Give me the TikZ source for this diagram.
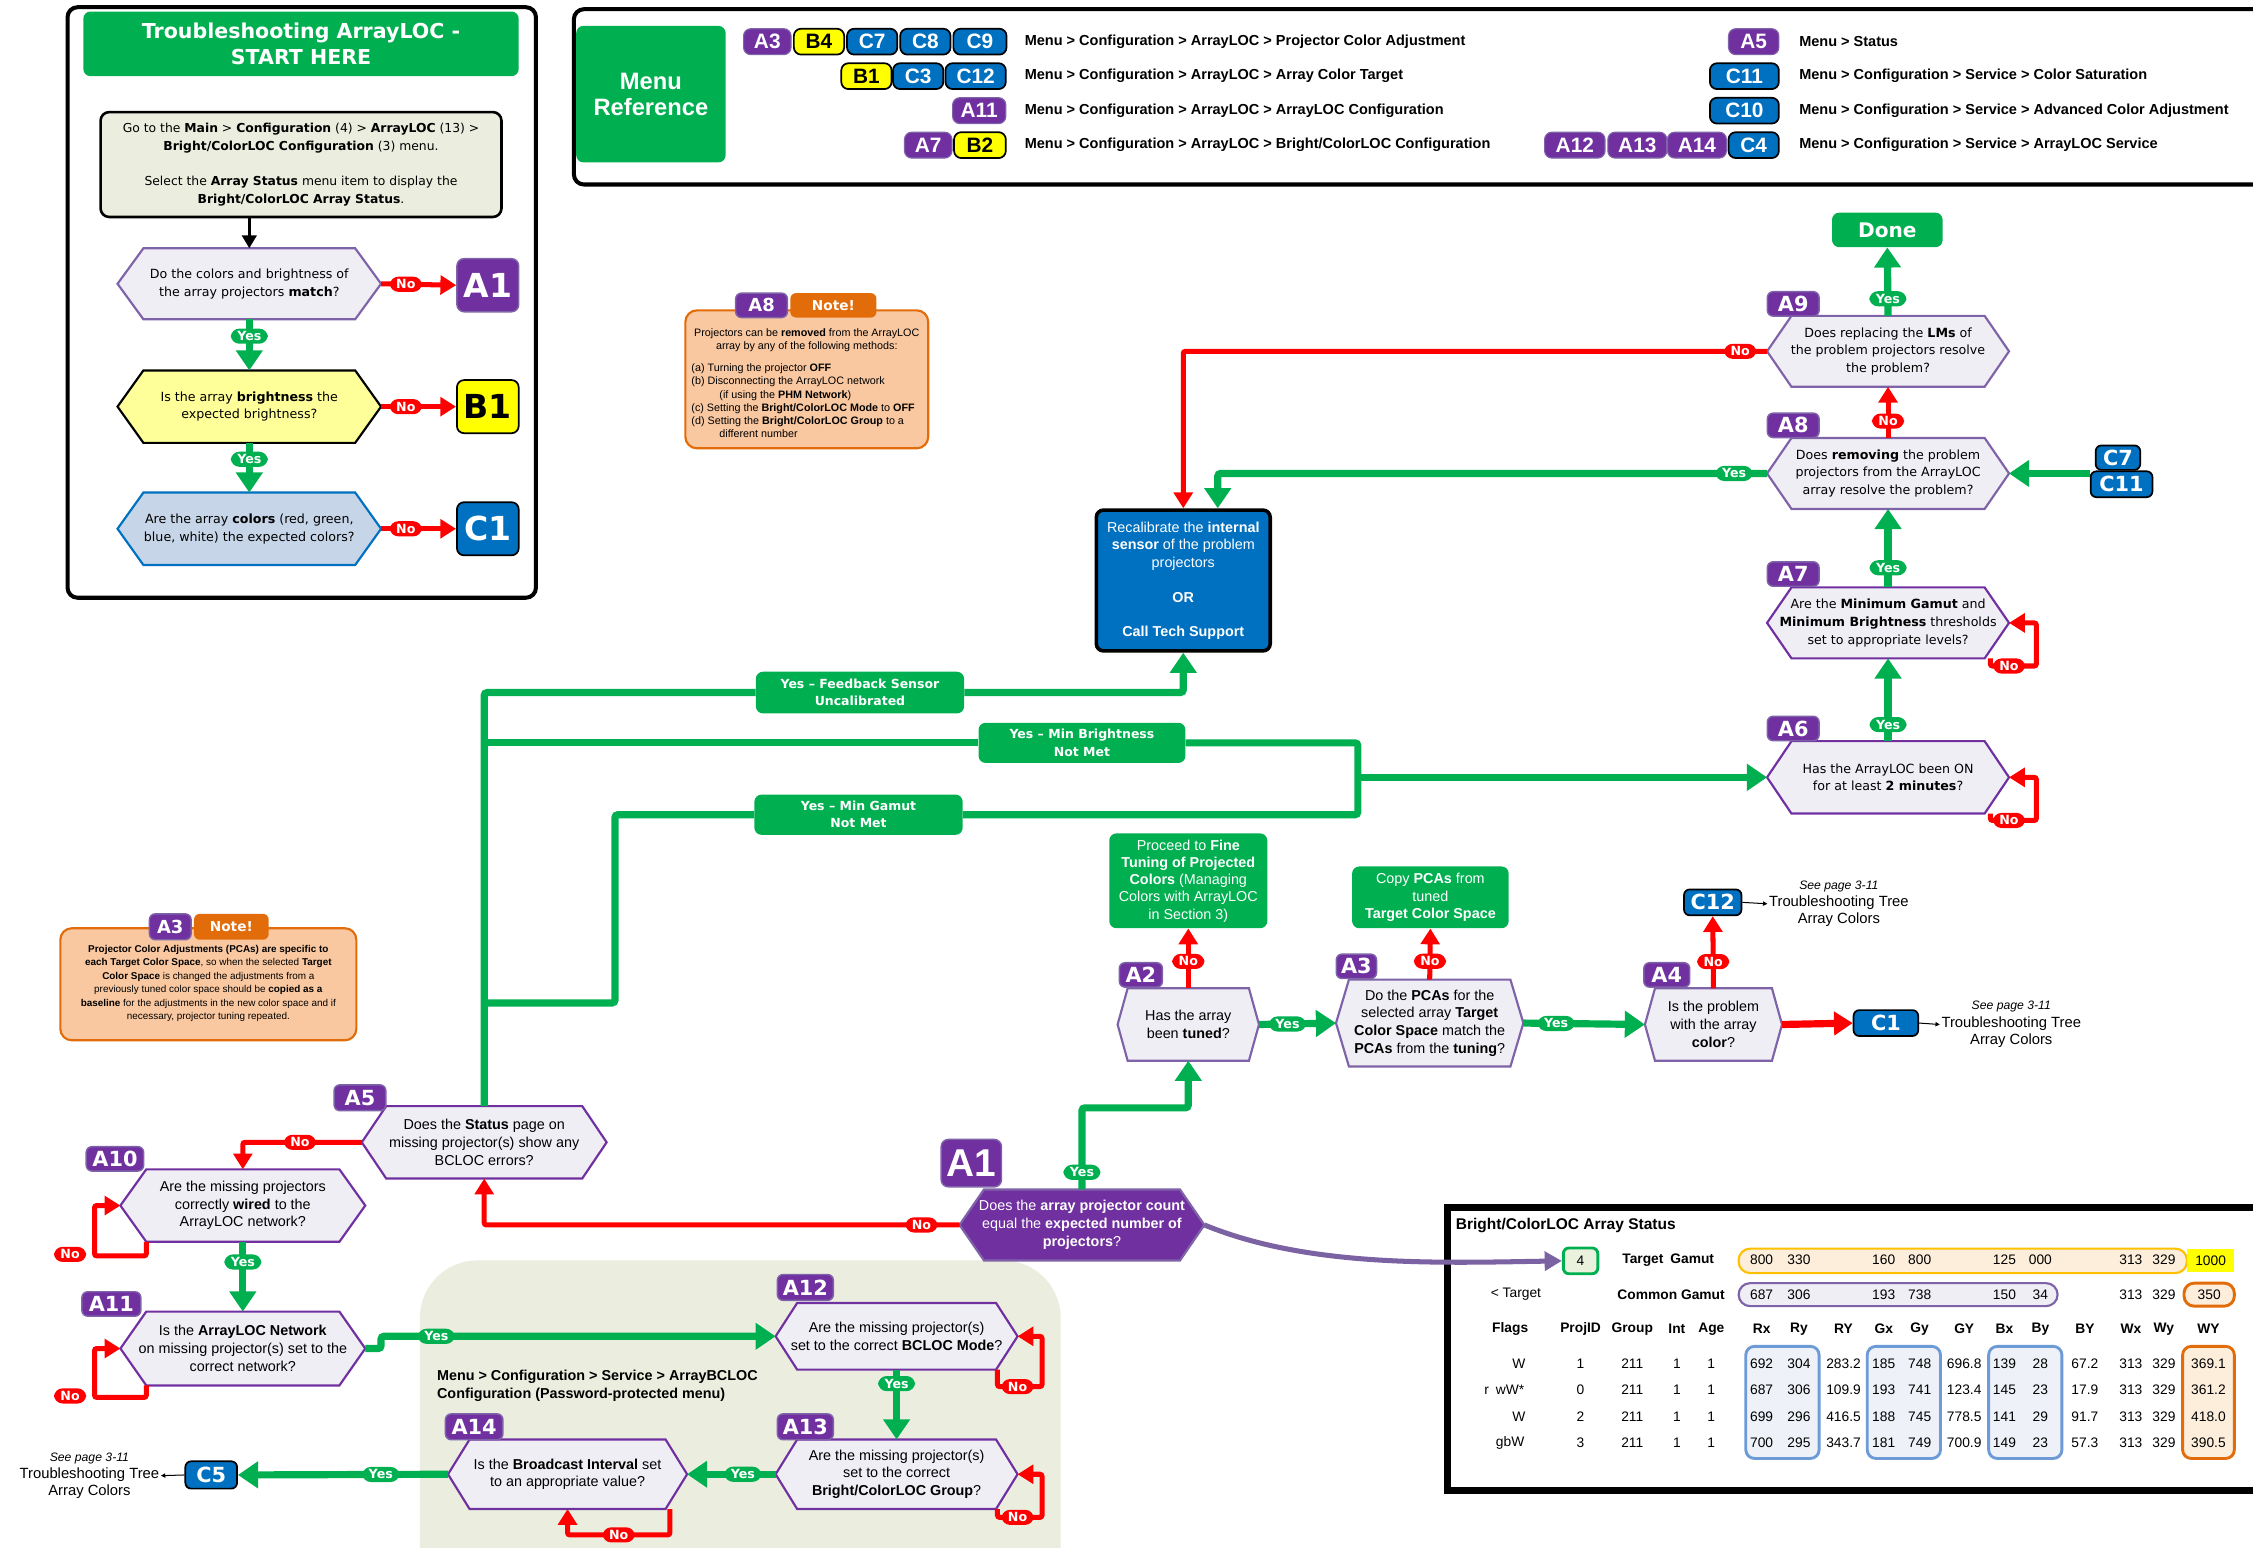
\documentclass[tikz,border=0pt]{standalone}
\usepackage{fontspec}
\setmainfont{Liberation Sans}
\newfontfamily\dv{DejaVu Sans}
\usetikzlibrary{arrows.meta,calc}
\definecolor{gr}{HTML}{00B050}
\definecolor{rd}{HTML}{FF0000}
\definecolor{pu}{HTML}{7030A0}
\definecolor{pub}{HTML}{7F63A8}
\definecolor{bl}{HTML}{0070C0}
\definecolor{lav}{HTML}{F0EEF5}
\definecolor{olv}{HTML}{EBEEDF}
\definecolor{yel}{HTML}{FFFF99}
\definecolor{yeltwo}{HTML}{FFFF00}
\definecolor{lblue}{HTML}{C6D5E8}
\definecolor{peach}{HTML}{FAC8A0}
\definecolor{org}{HTML}{E36C0A}
\definecolor{curvep}{HTML}{7B62A3}
\definecolor{ltor}{HTML}{FDEEDC}
\definecolor{gold}{HTML}{FFC000}
\definecolor{colb}{HTML}{6C9BD8}
\definecolor{colbf}{HTML}{EEF1F7}
\definecolor{ltgr}{HTML}{EAF1DD}
\pgfdeclarelayer{back}
\pgfdeclarelayer{hexl}
\pgfsetlayers{back,hexl,main}
\newcommand\hexo[3]{\begin{pgfonlayer}{hexl}\path[#3] (#1.west) -- ($(#1.north west)+(#2,0)$) -- ($(#1.north east)+(-#2,0)$) -- (#1.east) -- ($(#1.south east)+(-#2,0)$) -- ($(#1.south west)+(#2,0)$) -- cycle;\end{pgfonlayer}}
\tikzset{
  hx/.style={rectangle, inner sep=0pt, align=center, font=\fontsize{10}{12.3}\selectfont},
  hxd/.style={hx, font=\dv\fontsize{8.8}{12.3}\selectfont},
  pill/.style={rounded corners=6pt, inner xsep=4.5pt, inner ysep=2pt, text=white, font=\dv\bfseries\fontsize{8.8}{9}\selectfont},
  yesp/.style={pill, fill=gr},
  nop/.style={pill, fill=rd},
  gline/.style={draw=gr, line width=5pt, rounded corners=2pt},
  garr/.style={gline, -{Triangle[length=14pt,width=18pt]}},
  rline/.style={draw=rd, line width=3.5pt, rounded corners=1.5pt},
  rarr/.style={rline, -{Triangle[length=11pt,width=13pt]}},
  bdg/.style={rounded corners=4pt, inner sep=0pt, text=white, font=\dv\bfseries\fontsize{14.5}{14.5}\selectfont, minimum height=17pt},
  pb/.style={bdg, fill=pu, draw=pub, line width=1pt},
  bb/.style={bdg, fill=bl, draw=black, line width=1.2pt},
  yb/.style={bdg, fill=yeltwo, draw=black, line width=1.2pt, text=black},
  mbd/.style={rounded corners=5pt, inner sep=0pt, minimum height=18pt, font=\bfseries\fontsize{14.5}{14.5}\selectfont, text=white},
  mp/.style={mbd, fill=pu, draw=pub, line width=0.8pt},
  mbl/.style={mbd, fill=bl, draw=black, line width=1.2pt},
  my/.style={mbd, fill=yeltwo, draw=black, line width=1.2pt, text=black},
  mtxt/.style={anchor=west, inner sep=0pt, font=\bfseries\fontsize{10.1}{11}\selectfont},
  gbox/.style={fill=gr, rounded corners=5pt, text=white, align=center, inner sep=0pt},
  notebox/.style={fill=peach, draw=org, line width=1.5pt, rounded corners=8pt},
  notebd/.style={rounded corners=4pt, inner sep=0pt, text=white, font=\dv\bfseries\fontsize{9.5}{9.5}\selectfont, minimum height=17pt},
  seet/.style={align=center, inner sep=1pt, font=\fontsize{10.3}{12}\selectfont},
  smallarr/.style={draw=black, line width=0.7pt, -{Triangle[length=3pt,width=3pt]}},
  tb/.style={font=\fontsize{9.6}{10}\selectfont, inner sep=0pt},
  tbb/.style={font=\bfseries\fontsize{9.6}{10}\selectfont, inner sep=0pt},
  glab/.style={gbox, font=\dv\bfseries\fontsize{8.7}{12}\selectfont},
}
\begin{document}
\begin{tikzpicture}[x=1pt,y=-1pt]
\useasboundingbox (0,0) rectangle (1568,1077);
\begin{pgfonlayer}{back}
\fill[white] (0,0) rectangle (1568,1077);
\node[fill=olv, rounded corners=40pt, minimum width=446pt, minimum height=260pt, inner sep=0pt, anchor=north west] (region) at (292,877) {};
\end{pgfonlayer}

% ================= top-left box =================
\node[draw, line width=2.8pt, rounded corners=7pt, minimum width=326pt, minimum height=411pt, inner sep=0pt] (tlf) at (210,210.5) {};
\node[gbox, minimum width=303pt, minimum height=45pt, font=\dv\bfseries\fontsize{14.3}{17.5}\selectfont] (title) at (209.5,30.5) {Troubleshooting ArrayLOC -\\START HERE};
\node[draw, line width=1.8pt, fill=olv, rounded corners=6pt, minimum width=279pt, minimum height=73pt, align=center, inner sep=0pt, font=\dv\fontsize{8.6}{12.3}\selectfont] (instr) at (209.5,114.5) {Go to the \textbf{Main} > \textbf{Configuration} (4) > \textbf{ArrayLOC} (13) >\\\textbf{Bright/ColorLOC Configuration} (3) menu.\\[12.5pt]Select the \textbf{Array Status} menu item to display the\\\textbf{Bright/ColorLOC Array Status}.};

\node[hxd, minimum width=183pt, minimum height=49pt] (q1) at (173.5,197.5) {Do the colors and brightness of\\the array projectors \textbf{match}?};
\hexo{q1}{18}{fill=lav,draw=pub,line width=1.5pt}
\node[hxd, minimum width=183pt, minimum height=50pt] (q2) at (173.5,283) {Is the array \textbf{brightness} the\\expected brightness?};
\hexo{q2}{18}{fill=yel,draw=black,line width=1.5pt}
\node[hxd, minimum width=183pt, minimum height=50pt] (q3) at (173.5,368) {Are the array \textbf{colors} (red, green,\\blue, white) the expected colors?};
\hexo{q3}{18}{fill=lblue,draw=bl,line width=1.5pt}

\node[pb, minimum width=43pt, minimum height=37pt, rounded corners=5pt, font=\dv\bfseries\fontsize{23}{23}\selectfont] (tA1) at (339.5,198.5) {A1};
\node[yb, minimum width=43pt, minimum height=37pt, rounded corners=5pt, font=\dv\bfseries\fontsize{23}{23}\selectfont] (tB1) at (339.5,283) {B1};
\node[bb, minimum width=43pt, minimum height=37pt, rounded corners=5pt, font=\dv\bfseries\fontsize{23}{23}\selectfont] (tC1) at (339.5,368) {C1};

\draw[line width=2.5pt, -{Triangle[length=9pt,width=10pt]}] (q1.north |- instr.south) -- (q1.north);
\draw[rarr] (q1.east) -- node[nop,pos=0.33]{No} (tA1.west);
\draw[rarr] (q2.east) -- node[nop,pos=0.33]{No} (tB1.west);
\draw[rarr] (q3.east) -- node[nop,pos=0.33]{No} (tC1.west);
\draw[garr] (q1.south) -- node[yesp,pos=0.33]{Yes} (q2.north);
\draw[garr] (q2.south) -- node[yesp,pos=0.33]{Yes} (q3.north);

% ================= menu reference =================
\node[draw, line width=2.8pt, rounded corners=7pt, minimum width=1250pt, minimum height=122pt, inner sep=0pt, anchor=north west] (mframe) at (398,5) {};
\node[gbox, minimum width=104pt, minimum height=95pt, font=\bfseries\fontsize{16.5}{18}\selectfont] (mref) at (453,65.5) {Menu\\Reference};

\node[mp, minimum width=33pt] (mA3) at (534,29) {A3};
\node[my, minimum width=35pt] (mB4) at (570,29) {B4};
\node[mbl, minimum width=35pt] (mC7) at (607,29) {C7};
\node[mbl, minimum width=35pt] (mC8) at (644,29) {C8};
\node[mbl, minimum width=37pt] (mC9) at (682,29) {C9};
\node[my, minimum width=35pt] (mB1) at (603,53) {B1};
\node[mbl, minimum width=35pt] (mC3) at (639,53) {C3};
\node[mbl, minimum width=42pt] (mC12) at (679,53) {C12};
\node[mp, minimum width=37pt] (mA11) at (681.5,77) {A11};
\node[mp, minimum width=33pt] (mA7) at (646,101) {A7};
\node[my, minimum width=36pt] (mB2) at (682,101) {B2};
\node[mp, minimum width=35pt] (mA5) at (1220.5,29) {A5};
\node[mbl, minimum width=48pt] (mC11) at (1214,53) {C11};
\node[mbl, minimum width=48pt] (mC10) at (1214,77) {C10};
\node[mp, minimum width=42pt] (mA12) at (1096,101) {A12};
\node[mp, minimum width=41pt] (mA13) at (1139.5,101) {A13};
\node[mp, minimum width=41pt] (mA14) at (1181,101) {A14};
\node[mbl, minimum width=35pt] (mC4) at (1220.5,101) {C4};

\node[mtxt] (mt1) at (713,29) {Menu > Configuration > ArrayLOC > Projector Color Adjustment};
\node[mtxt] (mt2) at (713,53) {Menu > Configuration > ArrayLOC > Array Color Target};
\node[mtxt] (mt3) at (713,77) {Menu > Configuration > ArrayLOC > ArrayLOC Configuration};
\node[mtxt] (mt4) at (713,101) {Menu > Configuration > ArrayLOC > Bright/ColorLOC Configuration};
\node[mtxt] (mt5) at (1252,29) {Menu > Status};
\node[mtxt] (mt6) at (1252,53) {Menu > Configuration > Service > Color Saturation};
\node[mtxt] (mt7) at (1252,77) {Menu > Configuration > Service > Advanced Color Adjustment};
\node[mtxt] (mt8) at (1252,101) {Menu > Configuration > Service > ArrayLOC Service};

% ================= notes =================
\node[notebox, minimum width=169pt, minimum height=96pt] (n8) at (561.5,264) {};
\node[pb, minimum width=36pt, font=\dv\bfseries\fontsize{12.5}{12.5}\selectfont] (n8a) at (530,212.5) {A8};
\node[notebd, fill=org, minimum width=60pt] (n8b) at (580,212.5) {Note!};
\node[align=center, inner sep=0pt, font=\fontsize{7.5}{9.2}\selectfont] (n8t1) at (561.5,236.5) {Projectors can be \textbf{removed} from the ArrayLOC\\array by any of the following methods:};
\node[align=left, anchor=north west, inner sep=0pt, font=\fontsize{7.5}{9.2}\selectfont] (n8t2) at (481,253) {(a) Turning the projector \textbf{OFF}\\(b) Disconnecting the ArrayLOC network\\\hspace*{2.6em}(if using the \textbf{PHM Network})\\(c) Setting the \textbf{Bright/ColorLOC Mode} to \textbf{OFF}\\(d) Setting the \textbf{Bright/ColorLOC Group} to a\\\hspace*{2.6em}different number};

\node[notebox, minimum width=206pt, minimum height=78pt] (n3) at (145,685) {};
\node[pb, minimum width=29pt, minimum height=18pt, font=\dv\bfseries\fontsize{12.5}{12.5}\selectfont] (n3a) at (118.5,645) {A3};
\node[notebd, fill=org, minimum width=52pt, minimum height=18pt] (n3b) at (161,645) {Note!};
\node[align=center, inner sep=0pt, font=\fontsize{6.9}{9.4}\selectfont] (n3t) at (145,684.5) {\textbf{Projector Color Adjustments (PCAs) are specific to}\\\textbf{each Target Color Space}, so when the selected \textbf{Target}\\\textbf{Color Space} is changed the adjustments from a\\previously tuned color space should be \textbf{copied as a}\\\textbf{baseline} for the adjustments in the new color space and if\\necessary, projector tuning repeated.};

% ================= right column =================
\node[gbox, minimum width=77pt, minimum height=24pt, font=\dv\bfseries\fontsize{14}{14}\selectfont] (done) at (1313.5,160) {Done};
\node[hxd, minimum width=168pt, minimum height=49pt] (A9) at (1314,244.5) {Does replacing the \textbf{LMs} of\\the problem projectors resolve\\the problem?};
\hexo{A9}{17}{fill=lav,draw=pub,line width=1.5pt}
\node[hxd, minimum width=168pt, minimum height=49pt] (A8) at (1314,329.5) {Does \textbf{removing} the problem\\projectors from the ArrayLOC\\array resolve the problem?};
\hexo{A8}{17}{fill=lav,draw=pub,line width=1.5pt}
\node[hxd, minimum width=168pt, minimum height=49pt] (A7) at (1314,433.5) {Are the \textbf{Minimum Gamut} and\\\textbf{Minimum Brightness} thresholds\\set to appropriate levels?};
\hexo{A7}{17}{fill=lav,draw=pu,line width=1.5pt}
\node[hxd, minimum width=168pt, minimum height=50pt] (A6) at (1314,541) {Has the ArrayLOC been ON\\for at least \textbf{2 minutes}?};
\hexo{A6}{17}{fill=lav,draw=pu,line width=1.5pt}
\node[pb, minimum width=36pt] (bA9) at (1248,211.5) {A9};
\node[pb, minimum width=36pt] (bA8) at (1248,296) {A8};
\node[pb, minimum width=36pt] (bA7) at (1248,399.5) {A7};
\node[pb, minimum width=36pt] (bA6) at (1248,507) {A6};
\node[bb, minimum width=31pt] (bC7) at (1474,318.5) {C7};
\node[bb, minimum width=43pt, minimum height=18pt] (bC11) at (1476.5,337) {C11};

\node[draw=black, line width=2.5pt, fill=bl, rounded corners=5pt, minimum width=121pt, minimum height=98pt, inner sep=0pt, text=white, align=center, font=\fontsize{10}{12.4}\selectfont] (recal) at (823.5,404) {Recalibrate the \textbf{internal}\\\textbf{sensor} of the problem\\projectors\\[11.5pt]\textbf{OR}\\[11.5pt]\textbf{Call Tech Support}};

\node[glab, minimum width=145pt, minimum height=29pt] (fbk) at (598.5,482) {Yes – Feedback Sensor\\Uncalibrated};
\node[glab, minimum width=144pt, minimum height=28pt] (mbr) at (753,517) {Yes – Min Brightness\\Not Met};
\node[glab, minimum width=145pt, minimum height=28pt] (mga) at (597.5,567) {Yes – Min Gamut\\Not Met};

% ================= middle row =================
\node[hx, minimum width=98pt, minimum height=50pt] (A2) at (827,713) {Has the array\\been \textbf{tuned}?};
\hexo{A2}{7}{fill=lav,draw=pub,line width=1.5pt}
\node[hx, minimum width=130pt, minimum height=60pt] (A3) at (995,712) {Do the \textbf{PCAs} for the\\selected array \textbf{Target}\\\textbf{Color Space} match the\\\textbf{PCAs} from the \textbf{tuning}?};
\hexo{A3}{9}{fill=lav,draw=pub,line width=1.5pt}
\node[hx, minimum width=95pt, minimum height=50pt] (A4) at (1192.5,713) {Is the problem\\with the array\\\textbf{color}?};
\hexo{A4}{7}{fill=lav,draw=pub,line width=1.5pt}
\node[pb, minimum width=30pt] (bA2) at (794,678.5) {A2};
\node[pb, minimum width=28pt] (bA3) at (944,672.5) {A3};
\node[pb, minimum width=32pt] (bA4) at (1160,678.5) {A4};
\node[gbox, minimum width=110pt, minimum height=66pt, font=\fontsize{10}{12}\selectfont] (proc) at (827,613) {Proceed to \textbf{Fine}\\\textbf{Tuning of Projected}\\\textbf{Colors} (Managing\\Colors with ArrayLOC\\in Section 3)};
\node[gbox, minimum width=109pt, minimum height=43pt, font=\fontsize{10}{12.3}\selectfont] (copy) at (995.5,624.5) {Copy \textbf{PCAs} from\\tuned\\\textbf{Target Color Space}};
\node[bb, minimum width=40pt, minimum height=18pt] (bC12) at (1192,628) {C12};
\node[bb, minimum width=45pt, minimum height=18pt] (bC1) at (1312.5,712) {C1};
\node[seet, anchor=west] (s12) at (1230,629) {\textit{\fontsize{8.5}{10}\selectfont See page 3-11}\\Troubleshooting Tree\\Array Colors};
\node[seet, anchor=west] (s1) at (1350,713) {\textit{\fontsize{8.5}{10}\selectfont See page 3-11}\\Troubleshooting Tree\\Array Colors};

% ================= A1 and left flow =================
\node[hx, minimum width=170pt, minimum height=49pt, text=white] (A1) at (753,852.5) {Does the \textbf{array projector count}\\equal the \textbf{expected number of}\\\textbf{projectors}?};
\hexo{A1}{17}{fill=pu,draw=pub,line width=1.5pt}
\node[pb, minimum width=42pt, minimum height=33pt, rounded corners=5pt, font=\bfseries\fontsize{27}{27}\selectfont] (bA1) at (676,809.5) {A1};

\node[hx, minimum width=170pt, minimum height=50pt] (A5) at (337,795) {Does the \textbf{Status} page on\\missing projector(s) show any\\BCLOC errors?};
\hexo{A5}{17}{fill=lav,draw=pu,line width=1.5pt}
\node[hx, minimum width=170pt, minimum height=50pt] (A10) at (169,839) {Are the missing projectors\\correctly \textbf{wired} to the\\ArrayLOC network?};
\hexo{A10}{18}{fill=lav,draw=pu,line width=1.5pt}
\node[hx, minimum width=170pt, minimum height=51pt] (A11) at (169,938.5) {Is the \textbf{ArrayLOC Network}\\on missing projector(s) set to the\\correct network?};
\hexo{A11}{18}{fill=lav,draw=pu,line width=1.5pt}
\node[hx, minimum width=168pt, minimum height=46pt] (A12) at (624,930) {Are the missing projector(s)\\set to the correct \textbf{BCLOC Mode}?};
\hexo{A12}{15}{fill=lav,draw=pu,line width=1.5pt}
\node[hx, minimum width=168pt, minimum height=48pt] (A13) at (624,1026) {Are the missing projector(s)\\set to the correct\\\textbf{Bright/ColorLOC Group}?};
\hexo{A13}{15}{fill=lav,draw=pu,line width=1.5pt}
\node[hx, minimum width=166pt, minimum height=48pt] (A14) at (395,1026) {Is the \textbf{Broadcast Interval} set\\to an appropriate value?};
\hexo{A14}{15}{fill=lav,draw=pu,line width=1.5pt}
\node[pb, minimum width=36pt, minimum height=18pt] (bA5) at (250.5,764) {A5};
\node[pb, minimum width=40pt] (bA10) at (80,806.5) {A10};
\node[pb, minimum width=41pt] (bA11) at (77.5,907.5) {A11};
\node[pb, minimum width=39pt, minimum height=18pt] (bA12) at (560.5,896) {A12};
\node[pb, minimum width=39pt, minimum height=18pt] (bA13) at (560.5,993) {A13};
\node[pb, minimum width=40pt, minimum height=18pt] (bA14) at (330,993) {A14};
\node[bb, minimum width=36pt, minimum height=19pt] (bC5) at (147,1026.5) {C5};
\node[seet, anchor=east] (s5) at (112,1027) {\textit{\fontsize{8.5}{10}\selectfont See page 3-11}\\Troubleshooting Tree\\Array Colors};
\node[anchor=north west, align=left, inner sep=0pt, font=\bfseries\fontsize{10}{12.5}\selectfont] (regt) at (304,953) {Menu > Configuration > Service > ArrayBCLOC\\Configuration (Password-protected menu)};

% coordinates
\coordinate (t1) at (337,482);
\coordinate (t2) at (337,517);
\coordinate (t3) at (337,698);
\coordinate (t4) at (428,698);
\coordinate (t5) at (428,567);
\coordinate (j1) at (945,517);
\coordinate (j2) at (945,567);
\coordinate (j3) at (945,541);
\coordinate (k1) at (753,771);

% ================= connectors =================
\draw[garr] (A9.north) -- node[yesp,pos=0.25]{Yes} (done.south);
\draw[rarr] (A8.north) -- node[nop,pos=0.33]{No} (A9.south);
\draw[garr] (A7.north) -- node[yesp,pos=0.25]{Yes} (A8.south);
\draw[garr] (A6.north) -- node[yesp,pos=0.2]{Yes} (A7.south);
\draw[garr] (bC11.west |- A8.east) -- (A8.east);
\draw[rarr] ($(A7.south east)+(-13,0)$) |- ($(A7.east)+(19,30)$) |- (A7.east);
\node[nop] (p7) at ($(A7.east)+(0,30)$) {No};
\draw[rarr] ($(A6.south east)+(-13,0)$) |- ($(A6.east)+(19,30)$) |- (A6.east);
\node[nop] (p6) at ($(A6.east)+(0,30)$) {No};
\draw[rarr] (A9.west) -| node[nop,pos=0.023]{No} (recal.north);
\draw[garr] (A8.west) -| node[yesp,pos=0.03]{Yes} ($(recal.north)+(24,0)$);

\draw[gline] (A5.north) -- (t1) -- (fbk.west);
\draw[garr] (fbk.east) -| (recal.south);
\draw[gline] (t2) -- (mbr.west);
\draw[gline] (mbr.east) -- (j1) -- (j2) -- (mga.east);
\draw[gline] (t3) -- (t4) -- (t5) -- (mga.west);
\draw[garr] (j3) -- (A6.west);

\draw[garr] (A1.north) -- node[yesp,pos=0.21]{Yes} (k1) -| (A2.south);
\draw[rarr] (A2.north) -- node[nop,pos=0.45]{No} (proc.south);
\draw[garr] (A2.east) -- node[yesp,pos=0.37]{Yes} (A3.west);
\draw[rarr] (A3.north) -- node[nop,pos=0.36]{No} (copy.south);
\draw[garr] (A3.east) -- node[yesp,pos=0.27]{Yes} (A4.west);
\draw[rarr] (A4.north) -- node[nop,pos=0.37]{No} (bC12.south);
\draw[draw=rd, line width=5pt, -{Triangle[length=13pt,width=16pt]}] (A4.east) -- (bC1.west);
\draw[smallarr] (bC12.east) -- (s12.west);
\draw[smallarr] (bC1.east) -- (s1.west);
\draw[smallarr] (bC5.west) -- (s5.east);

\draw[rarr] (A1.west) -| node[nop,pos=0.04]{No} (A5.south);
\draw[rarr] (A5.west) -| node[nop,pos=0.26]{No} (A10.north);
\draw[garr] (A10.south) -- node[yesp,pos=0.29]{Yes} (A11.north);
\draw[rarr] ($(A10.south west)+(18,0)$) |- ($(A10.west)+(-18,35)$) |- (A10.west);
\node[nop] (p10) at ($(A10.west)+(-35,34)$) {No};
\draw[rarr] ($(A11.south west)+(18,0)$) |- ($(A11.west)+(-18,34)$) |- (A11.west);
\node[nop] (p11) at ($(A11.west)+(-35,33)$) {No};
\draw[garr] (A11.east) -- ++(11,0) |- node[yesp,pos=0.57]{Yes} (A12.west);
\draw[garr] (A12.south) -- node[yesp,pos=0.2]{Yes} (A13.north);
\draw[rarr] ($(A12.south east)+(-14,0)$) |- ($(A12.east)+(17,35)$) |- (A12.east);
\node[nop] (p12) at ($(A12.east)+(0,35)$) {No};
\draw[rarr] ($(A13.south east)+(-14,0)$) |- ($(A13.east)+(17,30)$) |- (A13.east);
\node[nop] (p13) at ($(A13.east)+(0,30)$) {No};
\draw[garr] (A13.west) -- node[yesp,pos=0.37]{Yes} (A14.east);
\draw[rarr] ($(A14.south east)+(-12,0)$) |- node[nop,pos=0.75]{No} ($(A14.south)+(0,18)$) -- (A14.south);
\draw[garr] (A14.west) -- node[yesp,pos=0.32]{Yes} (bC5.east);

% ================= table =================
\node[draw, line width=5pt, minimum width=620pt, minimum height=197pt, inner sep=0pt, anchor=north west] (tbl) at (1005,838) {};
\node[anchor=west, inner sep=0pt, font=\bfseries\fontsize{10.8}{12}\selectfont] (ttl) at (1013,853) {Bright/ColorLOC Array Status};
\node[draw=gr, line width=2pt, fill=ltgr, rounded corners=4pt, minimum width=24pt, minimum height=18pt, inner sep=0pt, tb] (four) at (1100,877.5) {4};
\draw[draw=curvep, line width=3.5pt, -{Triangle[length=12pt,width=13pt]}] (A1.east) .. controls (910,882) and (1000,879) .. (four.west);
\node[tbb] (tg) at (1161,877) {Target\enspace Gamut};
\node[tbb] (cg) at (1163,901) {Common Gamut};
\node[tb] (lt) at (1055,901) {< Target};
\node[draw=gold, line width=1.5pt, fill=ltor, rounded corners=8pt, minimum width=312pt, minimum height=17pt, inner sep=0pt] (strip1) at (1366,877.5) {};
\node[fill=yeltwo, minimum width=33pt, minimum height=16pt, inner sep=0pt, tb] (v1000) at (1538.5,877.5) {1000};
\node[draw=pub, line width=1.5pt, fill=lav, rounded corners=8pt, minimum width=222pt, minimum height=16pt, inner sep=0pt] (strip2) at (1321,901) {};
\node[draw=org, line width=2pt, fill=ltor, rounded corners=7pt, minimum width=35pt, minimum height=16pt, inner sep=0pt, tb] (v350) at (1537.5,901) {350};
\node[draw=colb, line width=2pt, fill=colbf, rounded corners=6pt, minimum width=51pt, minimum height=78pt, inner sep=0pt] (cbr) at (1240.5,976) {};
\node[draw=colb, line width=2pt, fill=colbf, rounded corners=6pt, minimum width=51pt, minimum height=78pt, inner sep=0pt] (cbg) at (1325,976) {};
\node[draw=colb, line width=2pt, fill=colbf, rounded corners=6pt, minimum width=51pt, minimum height=78pt, inner sep=0pt] (cbb) at (1409.5,976) {};
\node[draw=org, line width=2pt, fill=ltor, rounded corners=6pt, minimum width=36pt, minimum height=78pt, inner sep=0pt] (cbw) at (1537,976) {};

\def\colx{{1100,1136,1167,1191,1226,1252,1283,1311,1336,1367,1395,1420,1451,1483,1506,1537}}
\foreach \v/\c in {800/4,330/5,160/7,800/8,125/10,000/11,313/13,329/14}{
  \pgfmathsetmacro\xx{\colx[\c]}
  \node[tb] (tgv\c) at (\xx,877) {\v};
}
\foreach \v/\c in {687/4,306/5,193/7,738/8,150/10,34/11,313/13,329/14}{
  \pgfmathsetmacro\xx{\colx[\c]}
  \node[tb] (cgv\c) at (\xx,901) {\v};
}
\node[tbb] (hfl) at (1051,925) {Flags};
\foreach \h [count=\c from 0] in {ProjID,Group,Int,Age,Rx,Ry,RY,Gx,Gy,GY,Bx,By,BY,Wx,Wy,WY}{
  \pgfmathsetmacro\xx{\colx[\c]}
  \node[tbb] (h\c) at (\xx,925) {\h};
}
\foreach \yy/\row in {949/{1,211,1,1,692,304,283.2,185,748,696.8,139,28,67.2,313,329,369.1},
                      967/{0,211,1,1,687,306,109.9,193,741,123.4,145,23,17.9,313,329,361.2},
                      986/{2,211,1,1,699,296,416.5,188,745,778.5,141,29,91.7,313,329,418.0},
                      1004/{3,211,1,1,700,295,343.7,181,749,700.9,149,23,57.3,313,329,390.5}}{
  \foreach \v [count=\c from 0] in \row {
    \pgfmathsetmacro\xx{\colx[\c]}
    \node[tb] (d\yy c\c) at (\xx,\yy) {\v};
  }
}
\node[tb] (f1) at (1057,949) {W};
\node[tb] (f2) at (1047,967) {r\enspace wW*};
\node[tb] (f3) at (1057,986) {W};
\node[tb] (f4) at (1051,1004) {gbW};
\end{tikzpicture}
\end{document}
